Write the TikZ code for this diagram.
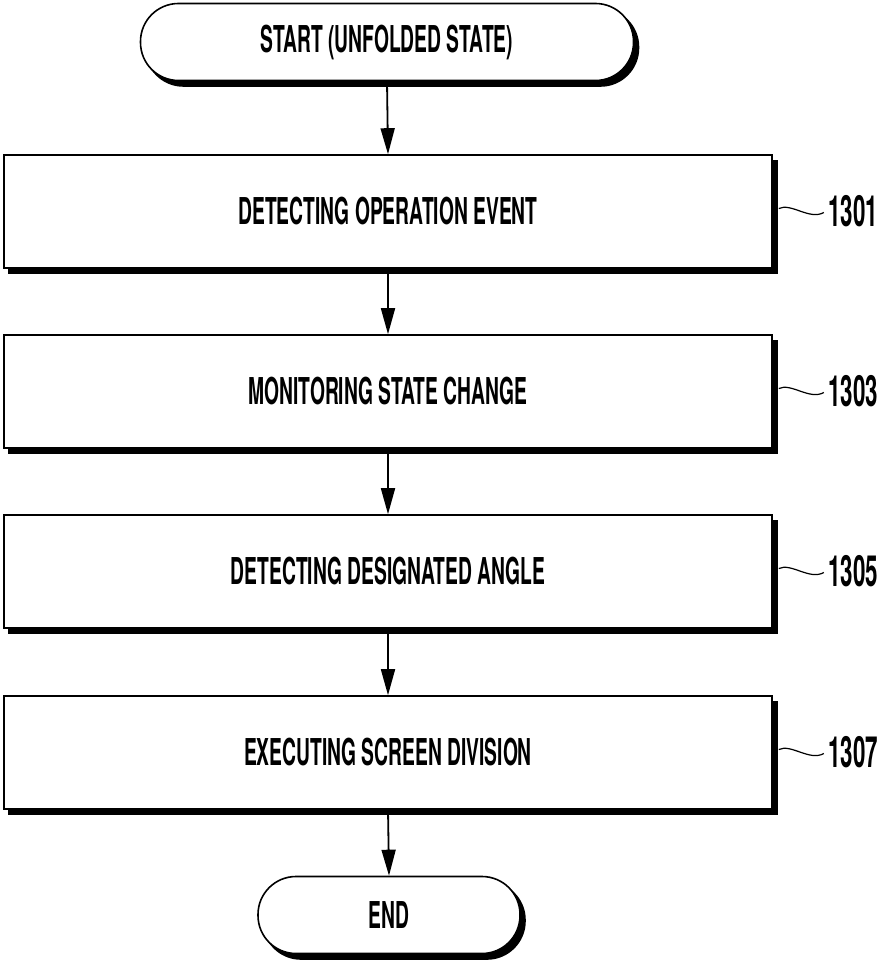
\documentclass[tikz,border=0pt]{standalone}
\usepackage{fontspec}
\newfontfamily\cond[FakeStretch=0.52]{TeX Gyre Heros}
\usetikzlibrary{shadows,arrows.meta}
\begin{document}
\begin{tikzpicture}[x=1pt,y=-1pt,
  every node/.style={font=\cond\bfseries\fontsize{37}{39}\selectfont},
  shad/.style={general shadow={fill=black, draw=black, line width=1.6pt, shadow xshift=5pt, shadow yshift=-5.5pt}},
  stepbox/.style={draw, line width=1.6pt, fill=white, minimum width=768pt, minimum height=113pt, shad},
  term/.style={draw, line width=1.6pt, fill=white, rounded corners=38pt, minimum height=77pt, shad},
  flow/.style={line width=1.8pt, -{Triangle[length=26pt,width=14pt]}},
  tilde/.style={line width=1.2pt},
  lab/.style={font=\cond\bfseries\fontsize{43}{45}\selectfont, anchor=west, inner sep=0pt}
]
\useasboundingbox (0,0) rectangle (883,960);
\node[term, minimum width=493pt] (s) at (387,42) {START (UNFOLDED STATE)};
\node[stepbox] (b1) at (388,211.5) {DETECTING OPERATION EVENT};
\node[stepbox] (b2) at (388,391.5) {MONITORING STATE CHANGE};
\node[stepbox] (b3) at (388,571.5) {DETECTING DESIGNATED ANGLE};
\node[stepbox] (b4) at (388,752.5) {EXECUTING SCREEN DIVISION};
\node[term, minimum width=262pt] (e) at (389,915) {END};
\draw[flow] (s.south) -- (b1.north);
\draw[flow] (b1.south) -- (b2.north);
\draw[flow] (b2.south) -- (b3.north);
\draw[flow] (b3.south) -- (b4.north);
\draw[flow] (b4.south) -- (e.north);
\foreach \b/\t in {b1/1301,b2/1303,b3/1305,b4/1307}{
  \draw[tilde] (\b.east) ++(6,-3) .. controls +(12,-6) and +(-14,8) .. ++(45,4)
     node[lab] (l\t) at +(4,-1) {\t};
}
\end{tikzpicture}
\end{document}
